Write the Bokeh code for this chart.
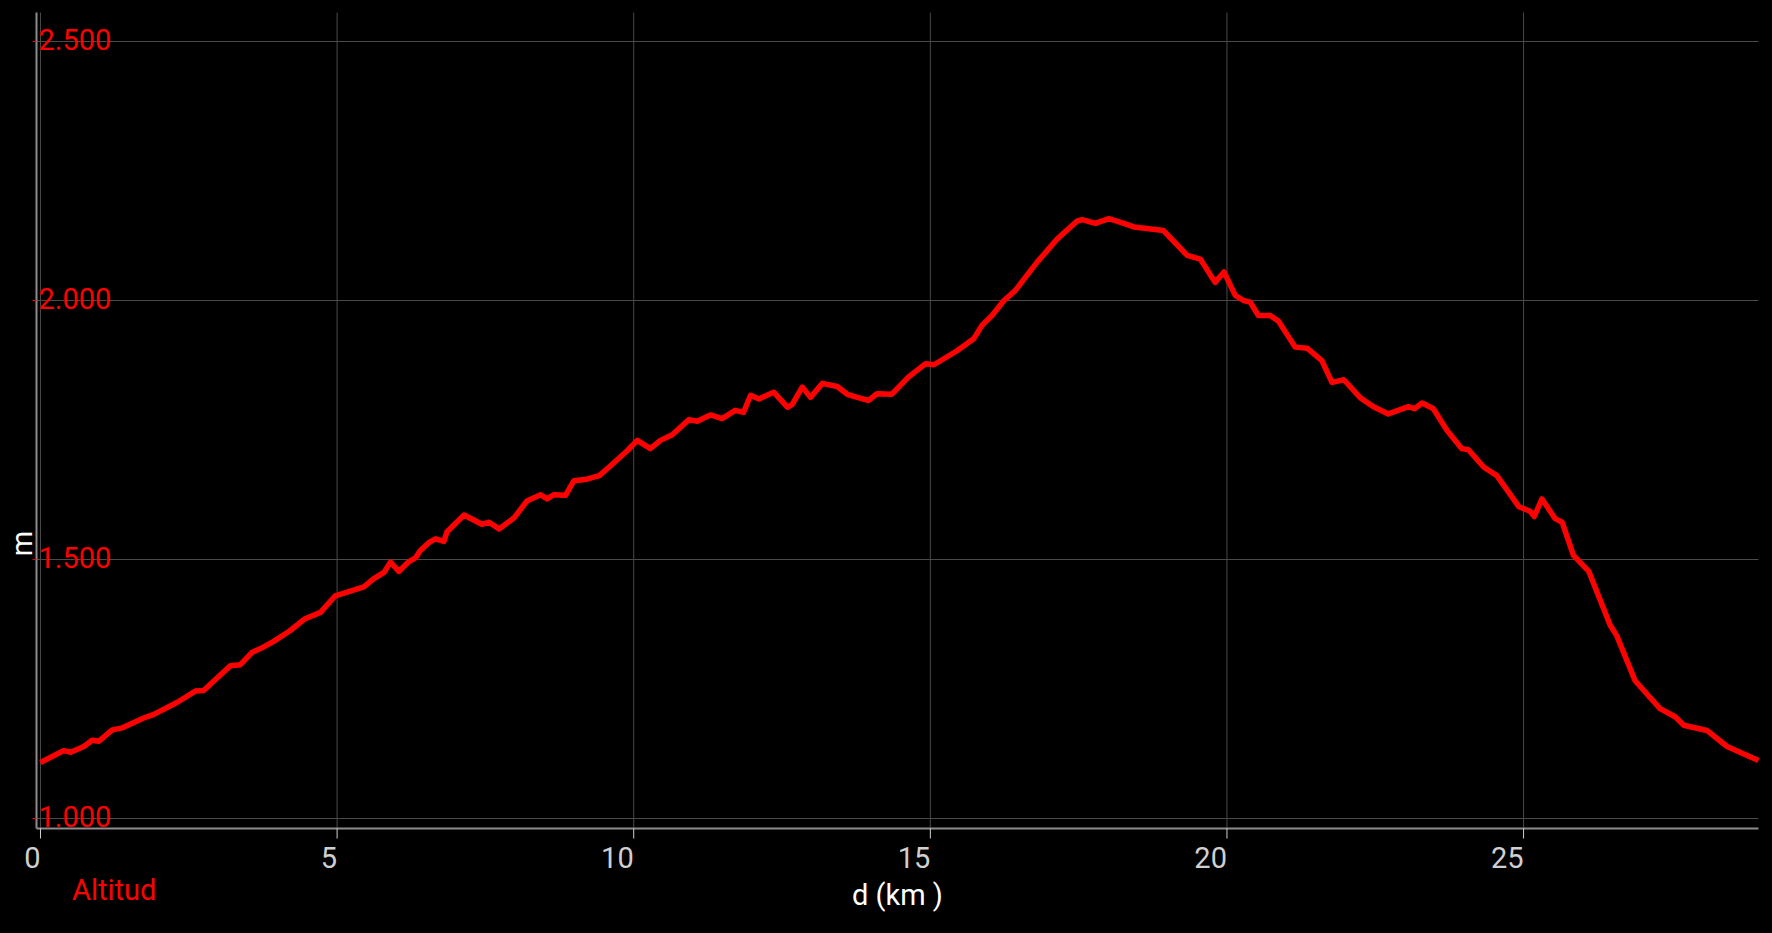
from math import pi
from bokeh.plotting import figure
from bokeh.models import (Range1d, Legend, LegendItem, GlobalInlineStyleSheet)
from bokeh.core.properties import value
from bokeh.embed import file_html
from bokeh.resources import INLINE

FONT = "Roboto"

# ---- data ----
dist_km = [0.0, 0.39, 0.51, 0.73, 0.87, 0.98, 1.21, 1.38, 1.74, 1.91,
           2.30, 2.61, 2.75, 3.20, 3.37, 3.57, 3.71, 3.93, 4.20, 4.45,
           4.72, 4.97, 5.45, 5.62, 5.79, 5.90, 6.04, 6.21, 6.32, 6.40,
           6.55, 6.66, 6.80, 6.85, 7.14, 7.44, 7.56, 7.73, 7.98, 8.20,
           8.43, 8.54, 8.65, 8.85, 8.99, 9.21, 9.42, 9.61, 9.89, 10.06,
           10.28, 10.45, 10.65, 10.93, 11.07, 11.29, 11.49, 11.71, 11.85, 11.97,
           12.11, 12.36, 12.59, 12.67, 12.84, 12.98, 13.18, 13.43, 13.60, 13.77,
           13.96, 14.10, 14.35, 14.63, 14.92, 15.06, 15.45, 15.73, 15.87, 16.04,
           16.24, 16.43, 16.80, 17.14, 17.47, 17.56, 17.78, 18.01, 18.26, 18.43,
           18.93, 19.13, 19.33, 19.55, 19.80, 19.95, 20.14, 20.28, 20.39, 20.53,
           20.73, 20.87, 21.15, 21.35, 21.60, 21.77, 21.97, 22.25, 22.47, 22.72,
           23.06, 23.16, 23.29, 23.48, 23.71, 23.96, 24.07, 24.33, 24.55, 24.92,
           25.11, 25.18, 25.31, 25.53, 25.65, 25.84, 26.10, 26.46, 26.57, 26.88,
           27.30, 27.56, 27.70, 28.09, 28.43, 28.96]

alt_m = [1108, 1131, 1128, 1139, 1151, 1149, 1171, 1175, 1194, 1201,
         1224, 1246, 1247, 1295, 1297, 1321, 1328, 1342, 1362, 1385,
         1398, 1430, 1447, 1463, 1475, 1495, 1477, 1496, 1503, 1517,
         1533, 1540, 1535, 1553, 1586, 1568, 1572, 1559, 1580, 1613,
         1625, 1617, 1625, 1624, 1652, 1655, 1662, 1681, 1710, 1730,
         1714, 1730, 1741, 1770, 1767, 1779, 1772, 1788, 1784, 1817,
         1810, 1823, 1794, 1799, 1833, 1813, 1840, 1834, 1819, 1813,
         1807, 1820, 1819, 1852, 1878, 1876, 1903, 1926, 1952, 1971,
         2000, 2019, 2074, 2119, 2153, 2156, 2149, 2158, 2149, 2142,
         2135, 2111, 2087, 2080, 2035, 2055, 2010, 2000, 1997, 1971,
         1971, 1960, 1910, 1908, 1884, 1842, 1847, 1812, 1795, 1781,
         1795, 1791, 1802, 1791, 1749, 1714, 1712, 1678, 1662, 1602,
         1593, 1583, 1617, 1579, 1572, 1508, 1477, 1373, 1353, 1266,
         1212, 1196, 1180, 1170, 1139, 1112]

x_ticks = [0, 5, 10, 15, 20, 25]
x_tick_labels = [str(v) for v in x_ticks]
y_ticks = [1000, 1500, 2000, 2500]
y_tick_labels = [f"{v:,}".replace(",", ".") for v in y_ticks]
series_name = "Altitud"
x_title = "d (km )"
y_title = "m"

# ---- plot area (value ranges of the drawn axes) ----
X_LO, X_HI = -0.067, max(dist_km)
Y_LO, Y_HI = 980.7, 2556.0
PLOT_W, PLOT_H = 1722, 816          # pixels of the axes box
PAD_L, PAD_R, PAD_T, PAD_B = 36, 14, 12, 105
px_per_km = PLOT_W / (X_HI - X_LO)
px_per_m = PLOT_H / (Y_HI - Y_LO)

# the frame covers the whole canvas; axes are drawn inside it
p = figure(frame_width=PAD_L + PLOT_W + PAD_R, frame_height=PAD_T + PLOT_H + PAD_B,
           x_range=Range1d(X_LO - PAD_L / px_per_km, X_HI + PAD_R / px_per_km),
           y_range=Range1d(Y_LO - PAD_B / px_per_m, Y_HI + PAD_T / px_per_m),
           output_backend="svg", toolbar_location=None,
           background_fill_color="black", border_fill_color="black",
           min_border_left=0, min_border_right=0, min_border_top=0, min_border_bottom=0)
p.outline_line_color = None
p.xaxis.visible = False
p.yaxis.visible = False
p.grid.visible = False

GRID = "#4a4a4a"
AXIS = "#8c8c8c"
nx, ny = len(x_ticks), len(y_ticks)

# grid lines
p.segment(x0=x_ticks, y0=[Y_LO] * nx, x1=x_ticks, y1=[Y_HI] * nx,
          line_color=GRID, line_width=1)
p.segment(x0=[X_LO] * ny, y0=y_ticks, x1=[X_HI] * ny, y1=y_ticks,
          line_color=GRID, line_width=1)

# axis lines
p.segment(x0=[X_LO], y0=[Y_LO], x1=[X_HI], y1=[Y_LO], line_color=AXIS, line_width=2)
p.segment(x0=[X_LO], y0=[Y_LO], x1=[X_LO], y1=[Y_HI], line_color=AXIS, line_width=2)

# ticks
p.segment(x0=x_ticks, y0=[Y_LO] * nx, x1=x_ticks, y1=[Y_LO - 10 / px_per_m] * nx,
          line_color="#d0d0d0", line_width=1)
p.segment(x0=[X_LO - 4 / px_per_km] * ny, y0=y_ticks, x1=[X_LO] * ny, y1=y_ticks,
          line_color="#ff0000", line_width=1)

# x tick labels and title
p.text(x=x_ticks, y=[Y_LO] * nx, text=x_tick_labels,
       text_color="#d0d0d0", text_font=value(FONT), text_font_size="29px",
       text_align="right", text_baseline="top", y_offset=18)
p.text(x=[(X_LO + X_HI) / 2], y=[Y_LO], text=[x_title],
       text_color="white", text_font=value(FONT), text_font_size="29px",
       text_align="center", text_baseline="top", y_offset=49)

# y tick labels (inside the axes box) and title
p.text(x=[X_LO] * ny, y=y_ticks, text=y_tick_labels,
       text_color="#ff0000", text_font=value(FONT), text_font_size="29px",
       text_align="left", text_baseline="alphabetic", x_offset=2, y_offset=-2)
p.text(x=[X_LO], y=[Y_LO + 285 / px_per_m], text=[y_title], angle=pi / 2,
       text_color="white", text_font=value(FONT), text_font_size="29px",
       text_align="center", text_baseline="middle", x_offset=-15)

# profile line
p.line(dist_km, alt_m, line_color="#ff0000", line_width=5.5, line_join="round")

# legend
r_leg = p.line([], [], line_color="#a00000", line_width=2)
legend = Legend(items=[LegendItem(label=series_name, renderers=[r_leg])],
                location=(PAD_L, 26), orientation="horizontal",
                background_fill_alpha=0, border_line_color=None,
                padding=0, margin=0, glyph_width=30, glyph_height=20,
                label_standoff=6, label_text_color="#ff0000",
                label_text_font=FONT, label_text_font_size="29px")
p.add_layout(legend)

p.stylesheets = [GlobalInlineStyleSheet(css="html, body { background-color: #000; }")]

open("out.html", "w").write(file_html(p, INLINE))
